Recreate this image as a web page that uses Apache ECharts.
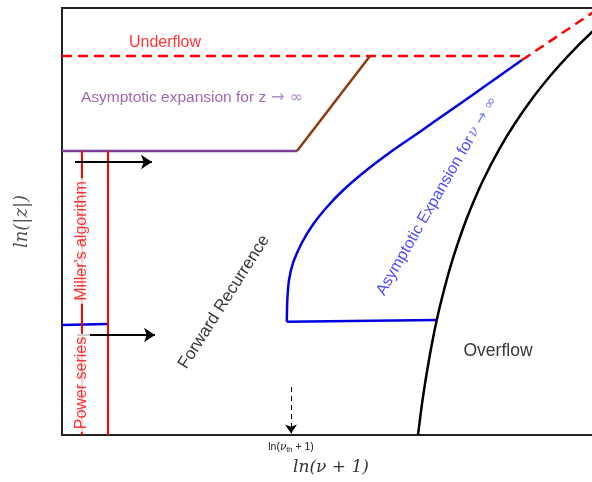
<!DOCTYPE html>
<html><head><meta charset="utf-8">
<script src="https://cdn.jsdelivr.net/npm/echarts@6/dist/echarts.min.js"></script>
<style>html,body{margin:0;padding:0;background:#fff}#c{width:592px;height:482px}</style>
</head><body><div id="c"></div>
<script>
// ---- data (abstract units: x = ln(nu+1), y = ln|z|) ----
const underflowLine = [[0,7.101],[8.679,7.101]];
const underflowDiag = [[8.679,7.026],[10.0,7.906],[10.3,8.106]];
const asymZLine = [[0,5.321],[4.434,5.321]];
const brownLine = [[4.434,5.321],[5.811,7.101]];
const asymNuCurve = [[4.242,2.123],[4.251,2.529],[4.283,2.904],[4.364,3.241],[4.523,3.597],[4.742,3.953],[5.000,4.272],[5.308,4.590],[5.749,4.965],[6.251,5.340],[6.755,5.683],[7.258,6.033],[7.732,6.361],[8.206,6.694],[8.679,7.026]];
const asymNuBottom = [[4.242,2.123],[7.070,2.155]];
const powerSeriesTop = [[0,2.06],[0.868,2.08]];
const millerLine = [[0.377,0],[0.377,5.321]];
const powerLine = [[0.868,0],[0.868,5.321]];
const overflowCurve = [[6.717,0],[6.802,0.656],[6.923,1.405],[7.062,2.117],[7.207,2.717],[7.366,3.279],[7.555,3.841],[7.730,4.290],[7.947,4.778],[8.242,5.340],[8.525,5.808],[8.879,6.314],[9.225,6.745],[9.562,7.119],[10.0,7.550],[10.428,7.925]];
const arrowLines = [[[0.245,5.115],[1.698,5.115]],[[0.283,1.874],[1.755,1.874]]];
const thresholdArrow = [[4.321,0.899],[4.321,0.03]];
const thresholdTick = [4.321];
const annotTexts = ['Underflow','{p|Asymptotic expansion for z}{q| → ∞}','Miller\'s algorithm','Power series','Forward Recurrence','{a|Asymptotic Expansion for}{m|ν}{r| → ∞}','Overflow'];
const annotPos = [[1.943,7.344],[2.453,6.314],[0.377,3.635],[0.377,0.974],[3.057,2.492],[7.075,4.478],[8.226,1.574]];
// ----------------------------------------------------

const SANS = '"Liberation Sans", Arial, sans-serif';
const SERIF = '"DejaVu Serif", "Liberation Serif", serif';
const annotStyle = [
  {color:'#ff0000', fontSize:16, rotate:0},
  {color:'#8a3fa0', fontSize:15, rotate:0},
  {color:'#ff0000', fontSize:16, rotate:90, backgroundColor:'#fff', padding:[0,3]},
  {color:'#ff0000', fontSize:16, rotate:90, backgroundColor:'#fff', padding:[0,3]},
  {color:'#000', fontSize:17, rotate:57.5},
  {color:'#1a1aff', fontSize:16, rotate:60},
  {color:'#000', fontSize:17.5, rotate:0}
];

function lineSeries(data, color, width, opts) {
  return Object.assign({
    type:'line', data:data, showSymbol:false, symbol:'none', silent:true,
    lineStyle:{color:color, width:width}, z:3
  }, opts||{});
}

const dashed = {color:'#ff0000', width:2.5, type:[10,6]};
const chart = echarts.init(document.getElementById('c'), null, {renderer:'canvas'});
chart.setOption({
  backgroundColor:'#fff',
  animation:false,
  grid:{left:62, top:8, width:538, height:427, outerBoundsMode:'none', containLabel:false, show:true, borderColor:'#222', borderWidth:2, backgroundColor:'transparent'},
  xAxis:{
    type:'value', min:0, max:10.15,
    axisLine:{show:false}, axisTick:{show:false}, splitLine:{show:false},
    axisLabel:{
      show:true, customValues:thresholdTick, margin:5,
      formatter:function(){return '{a|ln(}{b|ν}{s|th}{a| + 1)}';},
      rich:{
        a:{fontFamily:SANS, fontSize:10.5, color:'#222'},
        b:{fontFamily:SERIF, fontStyle:'italic', fontSize:10.5, color:'#222'},
        s:{fontFamily:SANS, fontSize:7.5, color:'#222', padding:[6,0,0,0]}
      }
    },
    name:'ln(ν + 1)', nameLocation:'middle', nameGap:24,
    nameTextStyle:{fontFamily:SERIF, fontStyle:'italic', fontSize:17, color:'#333'}
  },
  yAxis:{
    type:'value', min:0, max:8,
    axisLine:{show:false}, axisTick:{show:false}, splitLine:{show:false}, axisLabel:{show:false},
    name:'ln(|z|)', nameLocation:'middle', nameGap:31,
    nameTextStyle:{fontFamily:SERIF, fontStyle:'italic', fontSize:18, color:'#555'}
  },
  series:[
    lineSeries(underflowLine,'#ff0000',2.5,{lineStyle:dashed}),
    lineSeries(underflowDiag,'#ff0000',2.5,{lineStyle:dashed}),
    lineSeries(asymZLine,'#7e3f98',2.5),
    lineSeries(brownLine,'#8b3a10',2.5),
    lineSeries(asymNuCurve,'#0000e0',2.5,{smooth:0.3}),
    lineSeries(asymNuBottom,'#0000e0',2.5),
    lineSeries(powerSeriesTop,'#0000e0',2.5),
    lineSeries(millerLine,'#ff0000',2),
    lineSeries(powerLine,'#ff0000',2),
    lineSeries(overflowCurve,'#000',2.5,{smooth:0.3}),
    {
      type:'lines', coordinateSystem:'cartesian2d', silent:true, z:4,
      symbol:['none','arrow'], symbolSize:[0,11],
      lineStyle:{color:'#000', width:2, opacity:1, curveness:0},
      data:arrowLines.map(c=>({coords:c}))
    },
    {
      type:'lines', coordinateSystem:'cartesian2d', silent:true, z:4,
      symbol:['none','arrow'], symbolSize:[0,9],
      lineStyle:{color:'#000', width:1, opacity:1, type:[5,4], curveness:0},
      data:[{coords:thresholdArrow}]
    },
    {
      type:'scatter', symbolSize:0, silent:true, z:10, clip:false,
      data:annotPos.map((p,i)=>({
        value:p,
        label:Object.assign({
          show:true, position:'inside', formatter:annotTexts[i],
          fontFamily:SANS,
          rich:{
            a:{fontFamily:SANS, fontSize:16, color:'#1a1aff'},
            m:{fontFamily:SERIF, fontStyle:'italic', fontSize:15, color:'#5a5aff', padding:[0,0,0,2]},
            r:{fontFamily:'"DejaVu Sans", sans-serif', fontSize:15, color:'#5a5aff'},
            p:{fontFamily:SANS, fontSize:15.5, color:'#8a3fa0'},
            q:{fontFamily:'"DejaVu Sans", sans-serif', fontSize:16, color:'#a070b8'}
          }
        }, annotStyle[i])
      }))
    }
  ]
});
</script>
</body></html>
